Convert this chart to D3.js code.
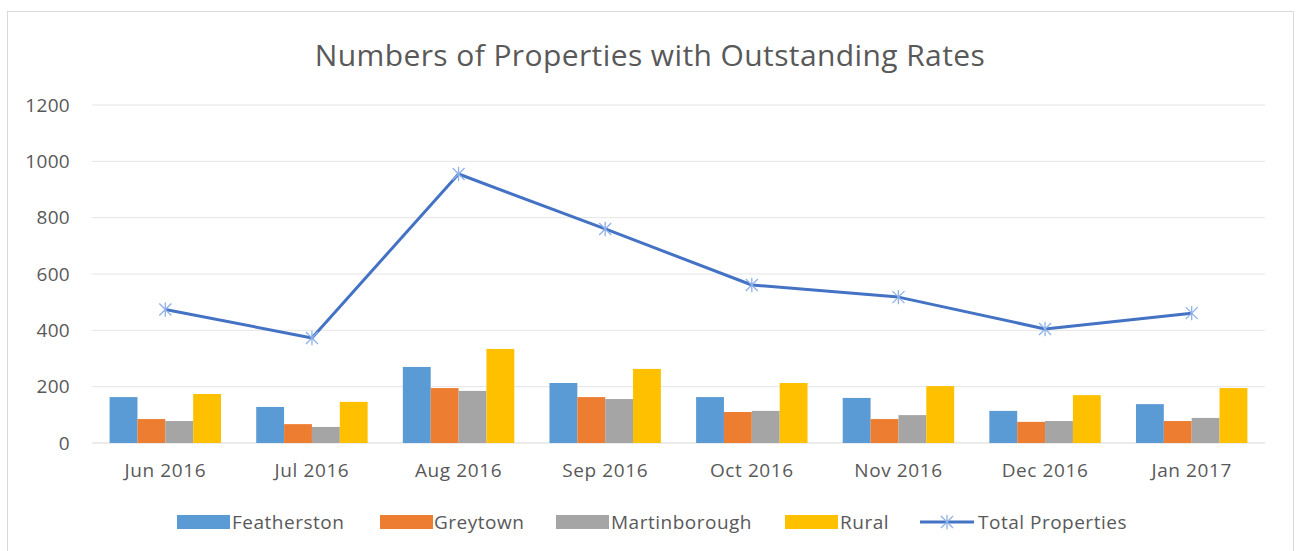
<!DOCTYPE html>
<html>
<head>
<meta charset="utf-8">
<script src="https://cdn.jsdelivr.net/npm/d3@7"></script>
<style>
  body { margin: 0; background: #fff; }
  text { font-family: "Open Sans", "Noto Sans", sans-serif; fill: #595959; }
</style>
</head>
<body>
<div id="chart"></div>
<script>
"use strict";

// data
var months = ["Jun 2016", "Jul 2016", "Aug 2016", "Sep 2016", "Oct 2016", "Nov 2016", "Dec 2016", "Jan 2017"];
var seriesNames = ["Featherston", "Greytown", "Martinborough", "Rural"];
var featherston = [163, 128, 270, 213, 163, 160, 114, 138];
var greytown = [85, 67, 195, 163, 110, 85, 75, 78];
var martinborough = [78, 57, 185, 156, 114, 99, 78, 89];
var rural = [174, 146, 334, 263, 213, 202, 170, 195];
var totalProps = [474, 373, 955, 760, 561, 518, 405, 461];
var yTicks = [0, 200, 400, 600, 800, 1000, 1200];

var colors = ["#5b9bd5", "#ed7d31", "#a5a5a5", "#ffc000"];
var lineColor = "#4472c4";

var W = 1301, H = 551;
var margin = { top: 105, right: 36, bottom: 108, left: 92 },
    w = W - margin.left - margin.right,
    h = H - margin.top - margin.bottom;

var svg = d3.select("#chart").append("svg")
  .attr("width", W).attr("height", H);

// chart border
svg.append("rect")
  .attr("x", 7.5).attr("y", 11.5)
  .attr("width", 1286).attr("height", 560)
  .attr("fill", "none").attr("stroke", "#d9d9d9");

svg.append("text")
  .attr("x", 650).attr("y", 66)
  .attr("text-anchor", "middle")
  .attr("font-size", "30px")
  .attr("letter-spacing", "0.4px")
  .text("Numbers of Properties with Outstanding Rates");

var g = svg.append("g")
  .attr("transform", "translate(" + margin.left + "," + margin.top + ")");

var x = d3.scaleBand().domain(months).range([0, w]);
var x1 = d3.scaleBand().domain(seriesNames).range([0, x.bandwidth() * 0.76]);
var y = d3.scaleLinear().domain([0, 1200]).range([h, 0]);

// gridlines
g.append("g")
  .selectAll("line").data(yTicks).join("line")
    .attr("x1", 0).attr("x2", w)
    .attr("y1", d => y(d)).attr("y2", d => y(d))
    .attr("stroke", d => d === 0 ? "#d9d9d9" : "#e4e4e4")
    .attr("stroke-width", 1);

// y axis labels
var yAxis = d3.axisLeft(y).tickValues(yTicks).tickFormat(d3.format("d")).tickSize(0).tickPadding(22);
g.append("g").call(yAxis)
  .call(s => s.select(".domain").remove())
  .selectAll("text")
    .attr("font-size", "19px")
    .attr("letter-spacing", "0.3px")
    .attr("fill", "#595959");

// x axis labels
var xAxis = d3.axisBottom(x).tickSize(0).tickPadding(21);
g.append("g").attr("transform", "translate(0," + h + ")").call(xAxis)
  .call(s => s.select(".domain").remove())
  .selectAll("text")
    .attr("font-size", "19px")
    .attr("letter-spacing", "0.6px")
    .attr("fill", "#595959");

// bars
var seriesVals = [featherston, greytown, martinborough, rural];
var rows = [];
months.forEach(function(m, i) {
  seriesNames.forEach(function(s, j) {
    rows.push({ month: m, series: s, idx: j, value: seriesVals[j][i] });
  });
});

var off = x.bandwidth() * 0.12;
g.append("g").selectAll("rect").data(rows).join("rect")
  .attr("x", d => x(d.month) + off + x1(d.series))
  .attr("y", d => y(d.value))
  .attr("width", x1.bandwidth())
  .attr("height", d => h - y(d.value))
  .attr("fill", d => colors[d.idx]);

// total line
var lineData = months.map((m, i) => ({ month: m, value: totalProps[i] }));
var line = d3.line()
  .x(d => x(d.month) + x.bandwidth() / 2)
  .y(d => y(d.value));

g.append("path").datum(lineData)
  .attr("d", line)
  .attr("fill", "none")
  .attr("stroke", lineColor)
  .attr("stroke-width", 3)
  .attr("stroke-linejoin", "round");

// star markers
function starPath(cx, cy, r) {
  var p = "";
  p += "M" + (cx - r) + "," + (cy - r) + "L" + (cx + r) + "," + (cy + r);
  p += "M" + (cx + r) + "," + (cy - r) + "L" + (cx - r) + "," + (cy + r);
  p += "M" + cx + "," + (cy - r * 1.2) + "L" + cx + "," + (cy + r * 1.2);
  return p;
}
g.append("g").selectAll("path").data(lineData).join("path")
  .attr("d", d => starPath(x(d.month) + x.bandwidth() / 2, y(d.value), 6))
  .attr("stroke", "#8eb1e8")
  .attr("stroke-width", 1.3)
  .attr("fill", "none");

// legend
var legendItems = [
  { name: "Featherston", sx: 177, tx: 232, type: "bar", c: colors[0] },
  { name: "Greytown", sx: 380, tx: 434, type: "bar", c: colors[1] },
  { name: "Martinborough", sx: 556, tx: 611, type: "bar", c: colors[2] },
  { name: "Rural", sx: 785, tx: 840, type: "bar", c: colors[3] },
  { name: "Total Properties", sx: 920, tx: 978, type: "line", c: lineColor }
];
var legend = svg.append("g").attr("id", "legend");
legendItems.forEach(function(d) {
  if (d.type === "bar") {
    legend.append("rect")
      .attr("x", d.sx).attr("y", 515)
      .attr("width", 53).attr("height", 14)
      .attr("fill", d.c);
  } else {
    legend.append("line")
      .attr("x1", d.sx).attr("x2", d.sx + 54)
      .attr("y1", 522).attr("y2", 522)
      .attr("stroke", d.c).attr("stroke-width", 3);
    legend.append("path")
      .attr("d", starPath(d.sx + 27, 522, 6))
      .attr("stroke", "#8eb1e8").attr("stroke-width", 1.3).attr("fill", "none");
  }
  legend.append("text")
    .attr("x", d.tx).attr("y", 529)
    .attr("font-size", "19px")
    .attr("letter-spacing", "0.5px")
    .text(d.name);
});
</script>
</body>
</html>
